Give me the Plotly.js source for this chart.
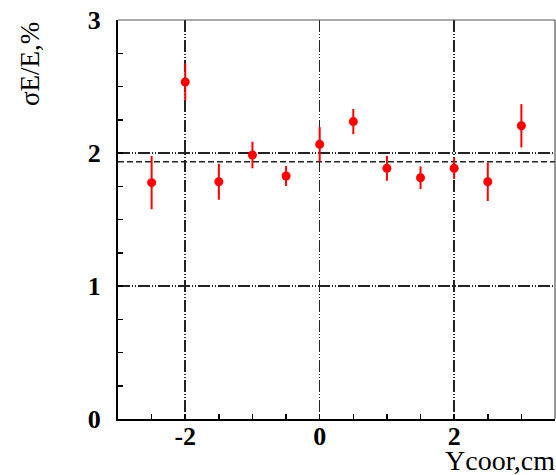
<!DOCTYPE html>
<html>
<head>
<meta charset="utf-8">
<script src="https://cdn.plot.ly/plotly-3.0.1.min.js"></script>
<style>html,body{margin:0;padding:0;background:#fff;}</style>
</head>
<body>
<div id="chart" style="width:556px;height:475px;"></div>
<script>
const ycoor = [-2.5, -2, -1.5, -1, -0.5, 0, 0.5, 1, 1.5, 2, 2.5, 3];
const resolution = [1.777, 2.534, 1.784, 1.985, 1.827, 2.065, 2.236, 1.885, 1.814, 1.885, 1.784, 2.205];
const resolutionErr = [0.2, 0.14, 0.135, 0.1, 0.075, 0.13, 0.095, 0.094, 0.085, 0.08, 0.145, 0.163];
const meanLevel = 1.935;
const xRange = [-3, 3.5];
const yRange = [0, 3];
const xTickVals = [-2, 0, 2];
const xTickText = ['-2', '0', '2'];
const yTickVals = [0, 1, 2, 3];
const yTickText = ['0', '1', '2', '3'];

const serif = 'Liberation Serif';
const gridDash = '12px,2px,1px,2px,1px,2px';
const bold = arr => arr.map(t => '<b>' + t + '</b>');

const traces = [
  {
    x: xRange, y: [meanLevel, meanLevel],
    mode: 'lines', line: {color: '#222', width: 1.5, dash: '6px,3px'},
    hoverinfo: 'skip', showlegend: false
  },
  {
    x: ycoor, y: resolution,
    mode: 'markers', type: 'scatter',
    marker: {color: '#ff0000', size: 9},
    error_y: {type: 'data', array: resolutionErr, visible: true, color: '#ff0000', thickness: 2, width: 0},
    showlegend: false
  }
];

const layout = {
  width: 556, height: 475,
  margin: {l: 118, r: 1, t: 20, b: 56},
  paper_bgcolor: '#fff', plot_bgcolor: '#fff',
  font: {family: serif, color: '#000'},
  xaxis: {
    range: xRange, tickvals: xTickVals, ticktext: bold(xTickText),
    ticks: 'inside', ticklen: 5, tickwidth: 1.5, tickcolor: '#000',
    tickfont: {family: serif, size: 26, color: '#000'},
    ticklabelstandoff: -7,
    showgrid: true, gridcolor: '#222', gridwidth: 1.5, griddash: gridDash,
    zeroline: false,
    showline: true, linecolor: '#000', linewidth: 2,
    minor: {dtick: 0.5, tick0: 0, ticks: 'inside', ticklen: 5, tickwidth: 1.5, tickcolor: '#000', showgrid: false}
  },
  yaxis: {
    range: yRange, tickvals: yTickVals, ticktext: bold(yTickText),
    ticks: 'inside', ticklen: 5, tickwidth: 1.5, tickcolor: '#000',
    tickfont: {family: serif, size: 26, color: '#000'},
    ticklabelstandoff: 10,
    showgrid: true, gridcolor: '#222', gridwidth: 1.5, griddash: gridDash,
    zeroline: false,
    showline: true, linecolor: '#000', linewidth: 2,
    minor: {dtick: 0.25, tick0: 0, ticks: 'inside', ticklen: 5, tickwidth: 1.5, tickcolor: '#000', showgrid: false}
  },
  shapes: [
    {type: 'line', xref: 'paper', yref: 'paper', x0: 0, x1: 1, y0: 1, y1: 1, line: {color: '#555', width: 1.2}},
    {type: 'line', xref: 'paper', yref: 'paper', x0: 1, x1: 1, y0: 0, y1: 1, line: {color: '#555', width: 1.2}}
  ],
  annotations: [
    {text: 'Ycoor,cm', xref: 'paper', yref: 'paper', x: 1, y: 0, xanchor: 'right', yanchor: 'top',
     xshift: 2, yshift: -24, showarrow: false, font: {family: serif, size: 28, color: '#000'}},
    {text: 'σE/E,%', xref: 'paper', yref: 'paper', x: 0, y: 1, xanchor: 'center', yanchor: 'top',
     xshift: -88, yshift: 0, textangle: -90, showarrow: false, font: {family: serif, size: 27, color: '#000'}}
  ]
};

Plotly.newPlot('chart', traces, layout, {displayModeBar: false, staticPlot: true});
</script>
</body>
</html>
